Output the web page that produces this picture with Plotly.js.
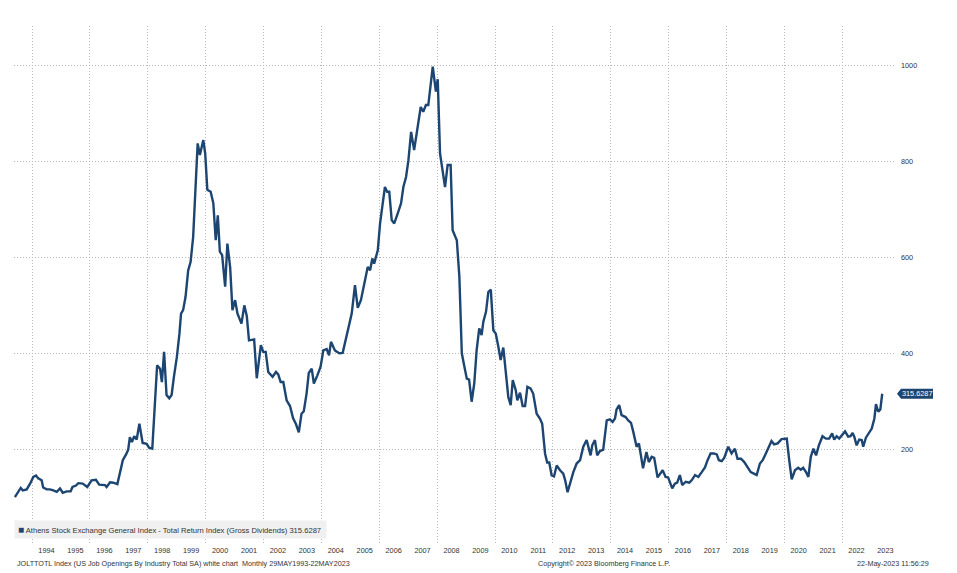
<!DOCTYPE html>
<html>
<head>
<meta charset="utf-8">
<script src="https://cdn.plot.ly/plotly-3.0.1.min.js"></script>
<style>html,body{margin:0;padding:0;background:#fff;}#chart{width:957px;height:573px;}</style>
</head>
<body>
<div id="chart"></div>
<script>
var seriesName = "Athens Stock Exchange General Index - Total Return Index (Gross Dividends)";
var lastLabel = "315.6287";
var dates = [
"1993-05-28","1993-07-10","1993-08-10","1993-09-05","1993-10-25","1993-12-06","1994-01-16","1994-02-19","1994-03-19","1994-05-01",
"1994-05-20","1994-07-04","1994-08-14","1994-09-25","1994-11-08","1994-12-19","1995-01-22","1995-03-13","1995-05-02","1995-05-26",
"1995-07-08","1995-08-07","1995-10-02","1995-11-28","1996-01-22","1996-03-16","1996-04-27","1996-07-09","1996-07-29","1996-09-11",
"1996-10-22","1996-12-12","1997-01-16","1997-02-19","1997-04-01","1997-04-28","1997-05-19","1997-06-14","1997-07-13","1997-08-13",
"1997-09-16","1997-10-27","1997-12-17","1998-01-16","1998-02-26","1998-03-21","1998-04-28","1998-06-04","1998-06-27","1998-07-25",
"1998-08-25","1998-09-28","1998-10-28","1998-11-26","1999-01-02","1999-02-04","1999-02-24","1999-03-22","1999-04-22","1999-05-25",
"1999-06-25","1999-07-27","1999-08-22","1999-09-22","1999-10-20","1999-12-02","1999-12-26","2000-01-22","2000-03-04","2000-04-07",
"2000-05-07","2000-06-02","2000-06-28","2000-07-27","2000-09-03","2000-10-01","2000-11-05","2000-12-04","2001-01-07","2001-02-05",
"2001-03-28","2001-05-03","2001-06-03","2001-07-01","2001-09-04","2001-10-07","2001-11-28","2001-12-28","2002-01-28","2002-03-01",
"2002-04-25","2002-06-07","2002-07-05","2002-08-05","2002-09-07","2002-10-19","2002-12-01","2003-01-08","2003-02-15","2003-03-22",
"2003-04-25","2003-05-24","2003-06-28","2003-07-26","2003-09-01","2003-09-28","2003-11-11","2003-12-22","2004-01-25","2004-03-08",
"2004-04-07","2004-05-01","2004-06-20","2004-08-14","2004-09-26","2004-11-16","2005-01-18","2005-02-28","2005-04-04","2005-05-14",
"2005-06-25","2005-08-08","2005-09-07","2005-10-05","2005-10-28","2005-12-13","2006-01-11","2006-02-14","2006-03-13","2006-04-11",
"2006-05-07","2006-06-07","2006-07-09","2006-08-22","2006-10-03","2006-11-01","2006-12-05","2007-01-04","2007-02-07","2007-03-17",
"2007-04-25","2007-06-08","2007-07-10","2007-08-13","2007-09-12","2007-11-07","2007-12-17","2008-01-09","2008-02-07","2008-04-10",
"2008-05-13","2008-06-20","2008-07-15","2008-09-06","2008-10-08","2008-11-08","2008-12-07","2009-01-10","2009-02-08","2009-03-12",
"2009-04-14","2009-05-14","2009-06-16","2009-07-16","2009-08-07","2009-09-10","2009-10-09","2009-11-09","2009-12-11","2010-01-11",
"2010-02-13","2010-03-13","2010-04-16","2010-05-16","2010-06-18","2010-07-18","2010-08-13","2010-09-20","2010-10-10","2010-11-13",
"2010-12-16","2011-01-16","2011-02-14","2011-03-25","2011-04-28","2011-06-11","2011-07-22","2011-08-20","2011-09-25","2011-10-22",
"2011-11-17","2011-12-17","2012-01-16","2012-02-19","2012-04-01","2012-05-12","2012-06-05","2012-07-05","2012-08-13","2012-09-16",
"2012-10-28","2012-12-10","2013-01-20","2013-03-03","2013-04-22","2013-05-13","2013-06-16","2013-07-14","2013-08-18","2013-09-28",
"2013-11-12","2013-12-22","2014-01-25","2014-02-24","2014-03-16","2014-04-18","2014-05-18","2014-07-08","2014-08-10","2014-09-14",
"2014-10-13","2014-11-24","2014-12-23","2015-02-13","2015-03-28","2015-04-27","2015-06-02","2015-07-04","2015-08-16","2015-10-19",
"2015-11-25","2015-12-27","2016-02-17","2016-03-21","2016-04-19","2016-05-23","2016-06-22","2016-08-05","2016-09-19","2016-10-19",
"2016-12-01","2017-01-11","2017-02-23","2017-04-05","2017-05-08","2017-06-15","2017-07-26","2017-09-01","2017-09-28","2017-11-03",
"2017-12-05","2018-01-05","2018-01-24","2018-03-07","2018-04-18","2018-05-21","2018-07-04","2018-08-14","2018-09-20","2018-11-04",
"2018-12-14","2019-01-18","2019-02-28","2019-04-04","2019-05-14","2019-06-24","2019-07-24","2019-08-26","2019-10-10","2019-11-28",
"2020-01-02","2020-02-02","2020-03-04","2020-04-04","2020-05-15","2020-06-25","2020-07-28","2020-08-27","2020-10-02","2020-11-01",
"2020-12-01","2021-01-03","2021-02-06","2021-03-13","2021-04-28","2021-06-10","2021-07-21","2021-08-28","2021-09-23","2021-10-23",
"2021-11-25","2021-12-25","2022-02-07","2022-03-18","2022-04-17","2022-05-13","2022-06-03","2022-07-03","2022-08-05","2022-09-05",
"2022-09-24","2022-10-28","2022-12-10","2023-01-10","2023-02-12","2023-03-04","2023-04-02","2023-04-28","2023-05-22"
];
var values = [
100,111,119,114,116,128,142,145,139,135,
120,116,116,114,111,118,109,112,112,121,
124,129,128,121,135,136,126,125,121,131,
130,127,156,177,189,199,225,215,227,220,
253,213,211,203,201,274,375,368,340,403,
313,306,313,351,392,441,483,490,518,573,
591,643,747,838,814,845,817,741,737,713,
636,688,612,605,539,629,580,490,511,483,
462,500,478,427,429,348,417,403,403,361,
351,361,356,340,340,302,290,265,252,235,
274,279,316,359,368,337,354,372,406,409,
396,424,406,400,401,438,483,542,495,511,
546,580,573,598,587,615,671,720,747,737,
737,678,671,692,713,747,768,803,862,824,
866,914,904,918,918,998,946,972,817,747,
793,793,657,636,560,400,375,347,345,299,
337,406,452,438,466,487,528,533,448,441,
413,386,412,365,309,292,344,323,302,318,
290,290,330,327,316,274,264,253,191,172,
172,145,143,166,156,149,135,110,135,152,
170,177,205,219,187,208,219,187,196,199,
260,262,257,264,283,292,271,267,260,255,
236,205,212,160,194,173,184,182,141,156,
142,141,118,128,130,146,125,132,130,135,
146,142,152,162,177,191,191,189,177,175,
182,198,205,191,201,180,180,173,163,152,
149,146,170,177,191,208,217,210,212,221,
222,222,177,137,156,161,157,161,152,142,
184,201,187,208,227,222,222,233,220,227,
222,229,237,226,227,234,226,208,220,219,
205,224,236,243,264,294,278,283,315.6287
];
var yearLabels = ["1994","1995","1996","1997","1998","1999","2000","2001","2002","2003","2004","2005","2006","2007","2008","2009","2010","2011","2012","2013","2014","2015","2016","2017","2018","2019","2020","2021","2022","2023"];
var gridYears = ["1994","1996","1998","2000","2002","2004","2006","2008","2010","2012","2014","2016","2018","2020","2022"];
var yTicks = [200,400,600,800,1000];

var lineColor = "#1d4571";
var font = "Liberation Sans, Arial, sans-serif";
var labelDates = yearLabels.map(function(y){return y+"-07-01";});
var gridDates = gridYears.map(function(y){return y+"-01-01";});
var lastValue = values[values.length-1];

var trace = {
  x: dates, y: values, type: "scatter", mode: "lines",
  line: {color: lineColor, width: 2.4}, hoverinfo: "skip", showlegend: false
};

var gridDash = "1px,2px";
var gridColor = "#b8b8b8";

var layout = {
  width: 957, height: 573,
  margin: {l: 14, r: 61, t: 26, b: 28},
  paper_bgcolor: "#ffffff", plot_bgcolor: "#ffffff",
  font: {family: font, size: 7, color: "#333333"},
  showlegend: false,
  xaxis: {
    type: "date", range: ["1993-05-17", "2023-11-12"],
    tickmode: "array", tickvals: labelDates, ticktext: yearLabels,
    showgrid: false, ticks: "", zeroline: false, showline: false,
    tickfont: {size: 7.3, color: "#333333", family: font},
    minor: {tickmode: "array", tickvals: gridDates, showgrid: true, griddash: gridDash, gridcolor: gridColor, gridwidth: 1, ticks: ""}
  },
  yaxis: {
    side: "right", range: [0, 1083], tickmode: "array", tickvals: yTicks,
    showgrid: true, griddash: gridDash, gridcolor: gridColor, gridwidth: 1,
    ticks: "", zeroline: false, showline: false, ticklabelstandoff: 4,
    tickfont: {size: 7.3, color: "#333333", family: font}
  },
  shapes: [{
    type: "path", xref: "paper", yref: "y", xsizemode: "pixel", ysizemode: "pixel",
    xanchor: 1, yanchor: lastValue,
    path: "M 1 0 L 5 5 L 37 5 L 37 -5 L 5 -5 Z",
    fillcolor: lineColor, line: {width: 0}
  }],
  annotations: [
    {xref: "paper", yref: "y", x: 1, xshift: 21, y: lastValue, text: lastLabel, showarrow: false,
     xanchor: "center", yanchor: "middle", font: {size: 7.3, color: "#ffffff", family: font}},
    {xref: "paper", yref: "paper", x: 0, y: 0.029, xanchor: "left", yanchor: "middle", showarrow: false,
     text: "<span style='color:" + lineColor + ";font-size:10px'>■</span> " + seriesName + " " + lastLabel + " ",
     bgcolor: "#f0f0f0", borderpad: 3, font: {size: 7.6, color: "#333333", family: font}},
    {xref: "paper", yref: "paper", x: 0.001, y: -0.035, xanchor: "left", yanchor: "middle", showarrow: false,
     text: "JOLTTOTL Index (US Job Openings By Industry Total SA) white chart  Monthly 29MAY1993-22MAY2023",
     font: {size: 7.2, color: "#333333", family: font}},
    {xref: "paper", yref: "paper", x: 0.669, y: -0.035, xanchor: "center", yanchor: "middle", showarrow: false,
     text: "Copyright© 2023 Bloomberg Finance L.P.", font: {size: 7.2, color: "#333333", family: font}},
    {xref: "paper", yref: "paper", x: 1.04, y: -0.035, xanchor: "right", yanchor: "middle", showarrow: false,
     text: "22-May-2023 11:56:29", font: {size: 7.2, color: "#333333", family: font}}
  ]
};

Plotly.newPlot("chart", [trace], layout, {staticPlot: true, displayModeBar: false});
</script>
</body>
</html>
